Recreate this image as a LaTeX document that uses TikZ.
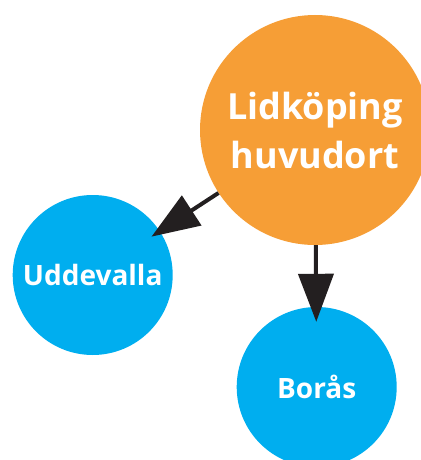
\documentclass[tikz,border=0pt]{standalone}
\usepackage{fontspec}
\setmainfont{Open Sans}
\usetikzlibrary{arrows.meta}
\definecolor{ortorange}{RGB}{246,158,54}
\definecolor{ortblue}{RGB}{0,174,239}
\definecolor{pildark}{RGB}{35,31,32}
\begin{document}
\begin{tikzpicture}[x=1pt,y=-1pt,
        stad/.style={circle,fill=ortblue,inner sep=0pt,minimum size=160pt,text=white,
          font=\bfseries\fontsize{28}{34}\selectfont},
        huvud/.style={circle,fill=ortorange,inner sep=0pt,minimum size=230pt,text=white,
          align=center,font=\bfseries\fontsize{36}{49}\selectfont},
        pil/.style={draw=pildark,line width=4pt,-{Triangle[length=48pt,width=35pt]}}]
        \useasboundingbox (0,0) rectangle (420,460);

        \node[huvud] (lidk) at (315,130) {Lidköping\\huvudort};
        \node[stad] (udde) at (92.7,275) {Uddevalla};
        \node[stad] (boras) at (316.7,387) {Borås};

        \draw[pil,shorten >=-10pt] (lidk) -- (udde);
        \draw[pil,shorten >=-15pt] (lidk) -- (boras);
      \end{tikzpicture}
\end{document}
